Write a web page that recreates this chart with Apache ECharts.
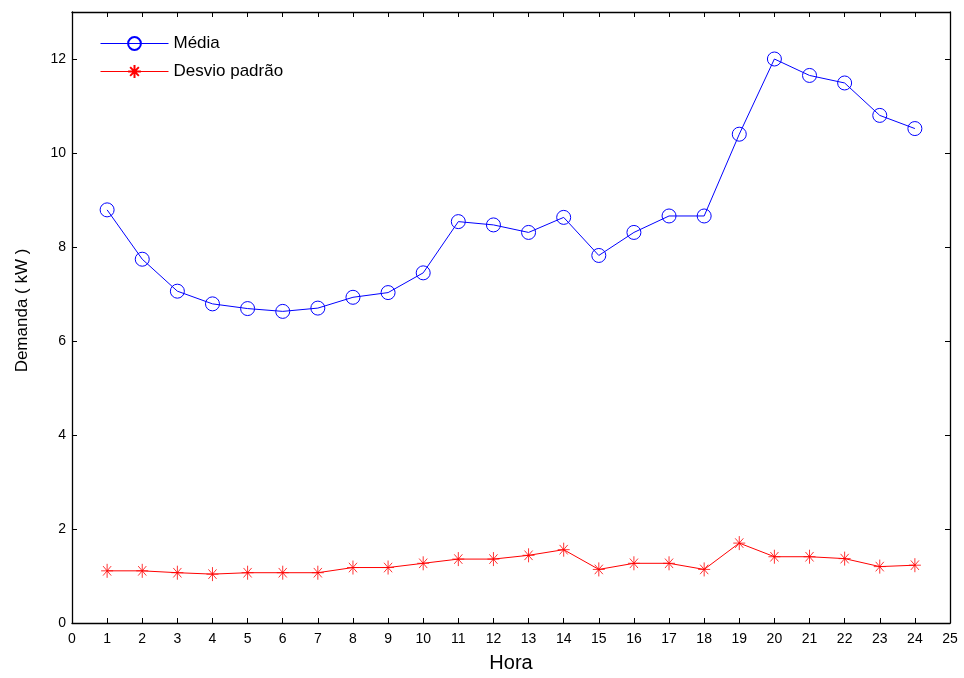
<!DOCTYPE html>
<html><head><meta charset="utf-8">
<script src="https://cdn.jsdelivr.net/npm/echarts@6/dist/echarts.min.js"></script>
<style>html,body{margin:0;padding:0;background:#fff;overflow:hidden}#c{width:964px;height:678px}</style>
</head><body><div id="c"></div>
<script>
const horas = [1,2,3,4,5,6,7,8,9,10,11,12,13,14,15,16,17,18,19,20,21,22,23,24];
const media = [8.79,7.74,7.06,6.79,6.69,6.63,6.70,6.93,7.03,7.45,8.54,8.47,8.31,8.63,7.82,8.31,8.66,8.66,10.40,12.00,11.65,11.49,10.80,10.52];
const desvio = [1.11,1.11,1.07,1.04,1.07,1.07,1.07,1.18,1.18,1.27,1.36,1.36,1.44,1.56,1.14,1.27,1.27,1.14,1.70,1.41,1.41,1.37,1.20,1.23];
const seriesNames = ['Média','Desvio padrão'];
const seriesColors = ['#0000ff','#ff0000'];
const xTitle = 'Hora';
const yTitle = 'Demanda ( kW )';

const font = 'Liberation Sans, Arial, sans-serif';
const star = 'path://M5,0L5,10M0,5L10,5M1.6,1.6L8.4,8.4M8.4,1.6L1.6,8.4';
const chart = echarts.init(document.getElementById('c'), null, {renderer:'canvas', width:964, height:678});
const axisCommon = {
  axisLine:{show:true, onZero:false, lineStyle:{color:'#000', width:1.3}},
  axisTick:{show:true, inside:true, length:5, lineStyle:{color:'#000'}},
  splitLine:{show:false}
};
chart.setOption({
  animation:false,
  color:seriesColors,
  textStyle:{fontFamily:font},
  grid:{left:72, right:14, top:12, bottom:52, containLabel:false},
  legend:{
    orient:'vertical', left:95, top:30, itemWidth:68, itemHeight:16, itemGap:11,
    textStyle:{fontFamily:font, fontSize:17, color:'#000'},
    data:seriesNames.map((n,i)=>({name:n, lineStyle:{color:seriesColors[i], width:1}}))
  },
  xAxis:[
    Object.assign({type:'value', min:0, max:25, interval:1, position:'bottom',
      name:xTitle, nameLocation:'middle', nameGap:30,
      nameTextStyle:{fontFamily:font, fontSize:20, color:'#000'},
      axisLabel:{fontFamily:font, fontSize:14, color:'#000', margin:9}}, axisCommon),
    Object.assign({type:'value', min:0, max:25, interval:1, position:'top',
      axisLabel:{show:false}}, axisCommon)
  ],
  yAxis:[
    Object.assign({type:'value', min:0, max:13, interval:2, position:'left',
      name:yTitle, nameLocation:'middle', nameGap:41,
      nameTextStyle:{fontFamily:font, fontSize:17, color:'#000', padding:[0,0,0,14]},
      axisLabel:{fontFamily:font, fontSize:14, color:'#000', margin:6, showMaxLabel:false}}, axisCommon),
    Object.assign({type:'value', min:0, max:13, interval:2, position:'right',
      axisLabel:{show:false}}, axisCommon)
  ],
  series:[
    {name:seriesNames[0], type:'line', xAxisIndex:0, yAxisIndex:0,
      data:horas.map((h,i)=>[h,media[i]]),
      symbol:'circle', symbolSize:14, showAllSymbol:true,
      lineStyle:{color:seriesColors[0], width:1},
      itemStyle:{color:'rgba(0,0,0,0)', borderColor:seriesColors[0], borderWidth:1}},
    {name:seriesNames[1], type:'line', xAxisIndex:0, yAxisIndex:0,
      data:horas.map((h,i)=>[h,desvio[i]]),
      symbol:star, symbolSize:[12,14], symbolKeepAspect:false, showAllSymbol:true,
      lineStyle:{color:seriesColors[1], width:1},
      itemStyle:{color:seriesColors[1], borderColor:seriesColors[1], borderWidth:0.8}}
  ]
});
</script></body></html>
